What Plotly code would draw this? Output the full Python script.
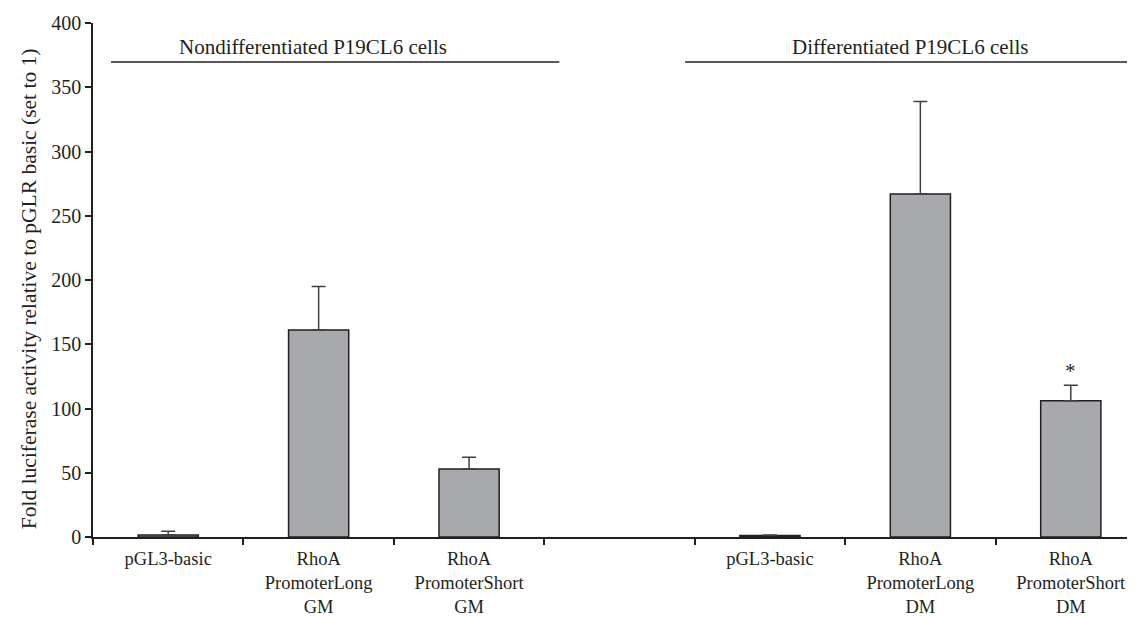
import plotly.graph_objects as go

# ---- data ----
positions = [0, 1, 2, 4, 5, 6]
tick_labels = ["pGL3-basic", "RhoA<br>PromoterLong<br>GM", "RhoA<br>PromoterShort<br>GM",
               "pGL3-basic", "RhoA<br>PromoterLong<br>DM", "RhoA<br>PromoterShort<br>DM"]
values = [1.5, 161, 53, 1.2, 267, 106]
errors = [3, 34, 9, 0.3, 72, 12]
boundaries = [-0.5, 0.5, 1.5, 2.5, 3.5, 4.5, 5.5, 6.5]
group_labels = ["Nondifferentiated P19CL6 cells", "Differentiated P19CL6 cells"]
group_spans = [(-0.38, 2.6), (3.436, 6.415)]
group_label_x = [0.963, 4.932]
group_line_y = 369.6
group_label_y = 381
star_index = 5
y_ticks = [0, 50, 100, 150, 200, 250, 300, 350, 400]
y_title = "Fold luciferase activity relative to pGLR basic (set to 1)"

INK = "#231f20"
FONT = "Liberation Serif"

fig = go.Figure()
fig.add_trace(go.Bar(
    x=positions, y=values, width=0.4,
    marker=dict(color="#a7a9ac", line=dict(color=INK, width=1.5)),
    error_y=dict(type="data", array=errors, arrayminus=[0]*len(errors),
                 symmetric=False, color="#404040", thickness=1.5, width=7),
    showlegend=False,
))

for (x0, x1) in group_spans:
    fig.add_shape(type="line", xref="x", yref="y", x0=x0, x1=x1,
                  y0=group_line_y, y1=group_line_y,
                  line=dict(color=INK, width=1.5))
for lbl, gx in zip(group_labels, group_label_x):
    fig.add_annotation(x=gx, y=group_label_y, xref="x", yref="y", text=lbl,
                       showarrow=False, font=dict(family=FONT, size=21, color=INK),
                       yanchor="middle")

fig.add_annotation(x=positions[star_index], y=values[star_index] + errors[star_index],
                   xref="x", yref="y", text="*", showarrow=False, yanchor="bottom",
                   font=dict(family=FONT, size=21, color=INK))

# y-axis title placed as rotated annotation (matches reference offset)
fig.add_annotation(x=-0.061, y=0.484, xref="paper", yref="paper", text=y_title,
                   textangle=-90, showarrow=False, xanchor="center", yanchor="middle",
                   font=dict(family=FONT, size=21.5, color=INK))

fig.update_layout(
    width=1135, height=617,
    margin=dict(l=85, r=0, t=15, b=88),
    plot_bgcolor="white", paper_bgcolor="white",
    font=dict(family=FONT, size=20, color=INK),
    bargap=0.6,
)
fig.update_xaxes(
    range=[-0.5, 6.48], tickmode="array", tickvals=positions, ticktext=tick_labels,
    ticks="", showgrid=False, zeroline=False, automargin=False,
    showline=True, linecolor=INK, linewidth=1.5,
    tickfont=dict(family=FONT, size=18.5, color=INK),
    ticklabelstandoff=4,
    minor=dict(tickmode="array", tickvals=boundaries, ticks="outside", ticklen=6,
               tickwidth=1.5, tickcolor=INK, showgrid=False),
)
fig.update_yaxes(
    range=[0, 400], tickmode="array", tickvals=y_ticks,
    ticks="outside", ticklen=6, tickwidth=1.5, tickcolor=INK, automargin=False,
    showgrid=False, zeroline=False, showline=True, linecolor=INK, linewidth=1.5,
    tickfont=dict(family=FONT, size=20, color=INK),
)

fig.write_html("out.html")
